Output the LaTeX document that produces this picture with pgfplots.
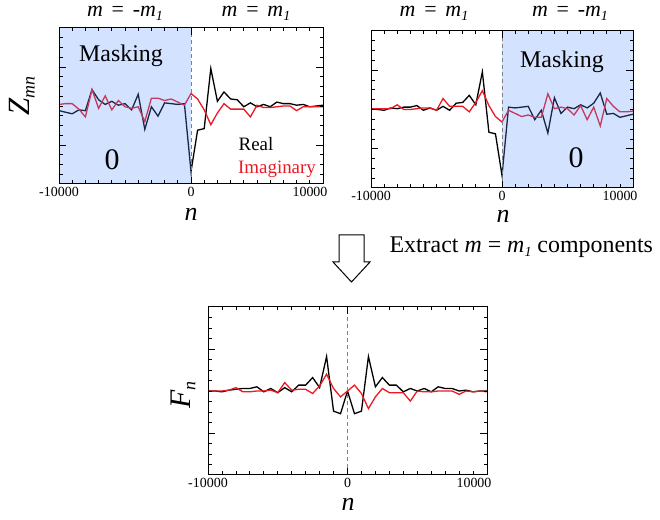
\documentclass[border=0pt]{standalone}
\usepackage{fontspec}
\setmainfont{Liberation Serif}
\usepackage{pgfplots}
\usepackage{pgfplotstable}
\pgfplotsset{compat=1.18}

\definecolor{imred}{RGB}{235,25,35}
\definecolor{maskblue}{RGB}{90,148,255}

% Z_mn, upper left panel (n<0 masked, m=-m1)
\pgfplotstableread{
n re im
-10000 -0.06 0.02
-9500 -0.08 0.03
-9000 -0.10 0.03
-8500 -0.05 -0.04
-8000 -0.06 -0.14
-7500 0.21 0.21
-7000 0.08 -0.03
-6500 0.02 0.13
-6000 0.06 -0.05
-5500 0.01 0.07
-5000 0.03 -0.01
-4500 -0.05 -0.03
-4000 0.15 -0.01
-3500 -0.30 -0.20
-3000 -0.01 0.10
-2500 -0.13 0.10
-2000 0.04 0.07
-1500 0.03 0.09
-1000 0.02 0.05
-500 0.03 0.01
0 -0.84 0.16
500 -0.31 0.09
1000 -0.29 -0.05
1500 0.48 -0.24
2000 0.06 -0.09
2500 0.18 0.03
3000 0.09 -0.04
3500 0.08 -0.04
4000 -0.01 -0.04
4500 0.04 -0.14
5000 -0.01 0.01
5500 0.02 -0.02
6000 -0.01 -0.02
6500 0.05 -0.01
7000 0.03 0.00
7500 0.03 0.00
8000 0.01 -0.06
8500 0.02 -0.01
9000 -0.01 -0.01
9500 0.00 -0.01
10000 0.01 -0.01
}\zleft

% Z_mn, upper right panel (n>0 masked)
\pgfplotstableread{
n re im
-10000 0.01 0.01
-9500 0.00 0.01
-9000 -0.01 0.01
-8500 0.02 0.01
-8000 0.01 0.06
-7500 0.03 0.00
-7000 0.03 0.00
-6500 0.05 0.01
-6000 -0.01 0.02
-5500 0.02 0.02
-5000 -0.01 -0.01
-4500 0.04 0.14
-4000 -0.01 0.04
-3500 0.08 0.04
-3000 0.09 0.04
-2500 0.18 -0.03
-2000 0.06 0.09
-1500 0.48 0.24
-1000 -0.29 0.05
-500 -0.31 -0.09
0 -0.84 -0.16
500 0.03 -0.01
1000 0.02 -0.05
1500 0.03 -0.09
2000 0.04 -0.07
2500 -0.13 -0.10
3000 -0.01 -0.10
3500 -0.30 0.20
4000 0.15 0.01
4500 -0.05 0.03
5000 0.03 0.01
5500 0.01 -0.07
6000 0.06 0.05
6500 0.02 -0.13
7000 0.08 0.03
7500 0.21 -0.21
8000 -0.06 0.14
8500 -0.05 0.04
9000 -0.10 -0.03
9500 -0.08 -0.03
10000 -0.06 -0.02
}\zright

% F_n
\pgfplotstableread{
n re im
-10000 0.00 0.00
-9500 0.00 0.00
-9000 -0.01 0.00
-8500 0.01 0.01
-8000 0.02 0.04
-7500 0.03 -0.01
-7000 0.03 -0.01
-6500 0.05 0.00
-6000 -0.01 0.00
-5500 0.03 0.01
-5000 -0.02 -0.02
-4500 0.04 0.10
-4000 -0.01 0.01
-3500 0.07 0.02
-3000 0.07 0.02
-2500 0.16 -0.03
-2000 0.04 0.06
-1500 0.41 0.20
-1000 -0.24 0.03
-500 -0.27 -0.07
0 0.00 0.00
500 -0.27 0.07
1000 -0.24 -0.03
1500 0.41 -0.21
2000 0.05 -0.07
2500 0.16 0.03
3000 0.07 -0.02
3500 0.07 -0.02
4000 -0.01 -0.02
4500 0.03 -0.12
5000 0.00 0.00
5500 0.03 -0.01
6000 -0.01 -0.01
6500 0.05 0.00
7000 0.03 0.00
7500 0.03 0.00
8000 0.00 -0.04
8500 0.01 0.00
9000 -0.01 -0.01
9500 0.00 0.00
10000 0.00 -0.01
}\fn

\pgfplotsset{
  panel/.style={
    scale only axis,
    xmin=-10000, xmax=10000, ymin=-1, ymax=1,
    scaled x ticks=false,
    xtick={-10000,0,10000},
    xticklabels={-10000,0,{\makebox[0pt][c]{\hspace*{-26bp}10000}}},
    minor xtick={-9000,-8000,...,9000},
    ytick={-0.5,0.5}, yticklabels={},
    minor ytick={-0.875,-0.75,-0.625,-0.375,-0.25,-0.125,0,0.125,0.25,0.375,0.625,0.75,0.875},
    tick align=inside,
    major tick length=7bp, minor tick length=3.5bp,
    axis line style={line width=1bp},
    every tick/.style={black, line width=0.8bp},
    tick label style={font=\rmfamily\fontsize{14}{15}\selectfont},
    axis on top,
  },
  re/.style={black, line width=1.3bp, mark=none},
  im/.style={imred, line width=1.3bp, mark=none},
}

\newcommand{\mone}{\textit{m}\raisebox{-4bp}{\fontsize{14}{14}\selectfont\textit{1}}}
\newcommand{\head}[1]{\fontsize{22}{23}\selectfont #1}

\begin{document}
\begin{tikzpicture}[x=1bp,y=1bp]
\useasboundingbox (0,0) rectangle (660,520);

% upper left
\begin{axis}[panel, at={(59bp,336bp)}, anchor=south west, width=264bp, height=156bp]
\addplot[re] table[x=n,y=re] {\zleft};
\addplot[im] table[x=n,y=im] {\zleft};
\fill[maskblue, fill opacity=0.27] (axis cs:-10000,-1) rectangle (axis cs:0,1);
\draw[gray, line width=0.9bp, dash pattern=on 4bp off 3bp] (axis cs:0,-1) -- (axis cs:0,1);
\end{axis}

% upper right
\begin{axis}[panel, at={(371bp,332bp)}, anchor=south west, width=262bp, height=157bp]
\addplot[re] table[x=n,y=re] {\zright};
\addplot[im] table[x=n,y=im] {\zright};
\fill[maskblue, fill opacity=0.27] (axis cs:0,-1) rectangle (axis cs:10000,1);
\draw[gray, line width=0.9bp, dash pattern=on 4bp off 3bp] (axis cs:0,-1) -- (axis cs:0,1);
\end{axis}

% bottom
\begin{axis}[panel, at={(208bp,45bp)}, anchor=south west, width=279bp, height=168bp]
\addplot[re] table[x=n,y=re] {\fn};
\addplot[im] table[x=n,y=im] {\fn};
\draw[gray, line width=0.9bp, dash pattern=on 4bp off 3bp] (axis cs:0,-1) -- (axis cs:0,1);
\end{axis}

% headers
\node at (125,507) {\head{\textit{m}\hspace{0.4em}=\hspace{0.4em}-\mone}};
\node at (256,507) {\head{\textit{m}\hspace{0.4em}=\hspace{0.4em}\mone}};
\node at (434,507) {\head{\textit{m}\hspace{0.4em}=\hspace{0.4em}\mone}};
\node at (570,507) {\head{\textit{m}\hspace{0.4em}=\hspace{0.4em}-\mone}};

% panel texts
\node[anchor=base] at (121,458) {\fontsize{24}{24}\selectfont Masking};
\node[anchor=base] at (112,350) {\fontsize{30}{30}\selectfont 0};
\node[anchor=base] at (256,369) {\fontsize{19}{19}\selectfont Real};
\node[anchor=base, imred] at (277,346) {\fontsize{19}{19}\selectfont Imaginary};
\node[anchor=base] at (562,452) {\fontsize{24}{24}\selectfont Masking};
\node[anchor=base] at (576,352) {\fontsize{30}{30}\selectfont 0};

% axis labels
\node[rotate=90] at (22,424) {\fontsize{31}{31}\selectfont\textit{Z}\raisebox{-5bp}{\fontsize{18}{18}\selectfont\textit{mn}}};
\node[anchor=base] at (191,299) {\fontsize{26}{26}\selectfont\textit{n}};
\node[anchor=base] at (503,297) {\fontsize{26}{26}\selectfont\textit{n}};
\node[rotate=90] at (183,125) {\fontsize{30}{30}\selectfont\textit{F}\raisebox{-5bp}{\fontsize{18}{18}\selectfont\textit{n}}};
\node[anchor=base] at (348,9) {\fontsize{26}{26}\selectfont\textit{n}};

% arrow and caption
\draw[line width=1bp, line join=miter] (339,285) -- (364,285) -- (364,258) -- (370,258) -- (351.5,238) -- (333,258) -- (339,258) -- cycle;
\node[anchor=base west] at (386,267) {\fontsize{24}{25}\selectfont Extract \textit{m} = \mone{} components};
\end{tikzpicture}
\end{document}
